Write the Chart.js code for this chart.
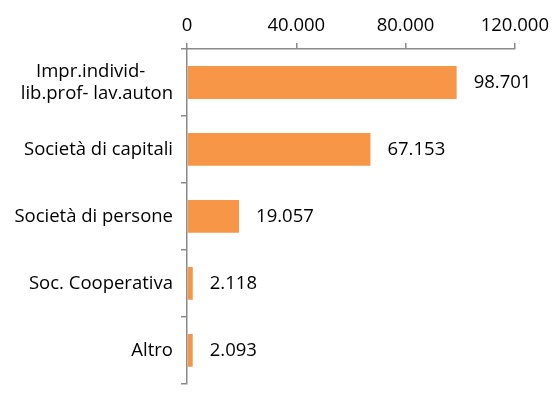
<!DOCTYPE html>
<html>
<head>
<meta charset="utf-8">
<script src="https://cdn.jsdelivr.net/npm/chart.js@4.4.1/dist/chart.umd.min.js"></script>
<style>
  html, body { margin: 0; padding: 0; background: #fff; overflow: hidden; }
  #wrap { width: 555px; height: 414px; }
</style>
</head>
<body>
<div id="wrap"><canvas id="chart"></canvas></div>
<script>
const categories = [
    ['Impr.individ-\u2002\u2002\u2002', 'lib.prof- lav.auton'],
    'Società di capitali',
    'Società di persone',
    'Soc. Cooperativa',
    'Altro'
];
const values = [98701, 67153, 19057, 2118, 2093];
const tickValues = [0, 40000, 80000, 120000];

const BAR_COLOR = '#F79646';
const AXIS_COLOR = '#8a8a8a';
const FONT = { family: 'Open Sans', size: 18.5, lineHeight: 1.2 };

// separatore migliaia con il punto, anche per 4 cifre
function fmt(v) {
    return String(v).replace(/\B(?=(\d{3})+(?!\d))/g, '.');
}

const valueLabels = {
    id: 'valueLabels',
    afterDatasetsDraw(chart) {
        const c = chart.ctx;
        const meta = chart.getDatasetMeta(0);
        c.save();
        c.font = `${FONT.size}px "${FONT.family}"`;
        c.fillStyle = '#000';
        c.textAlign = 'left';
        c.textBaseline = 'middle';
        meta.data.forEach((bar, i) => {
            c.fillText(fmt(values[i]), bar.x + 17, bar.y);
        });
        c.restore();
    }
};

const ctx = document.getElementById('chart').getContext('2d');
new Chart(ctx, {
    type: 'bar',
    data: {
        labels: categories,
        datasets: [{
            data: values,
            backgroundColor: BAR_COLOR,
            borderWidth: 0,
            categoryPercentage: 1,
            barPercentage: 0.49
        }]
    },
    options: {
        indexAxis: 'y',
        responsive: true,
        maintainAspectRatio: false,
        animation: false,
        layout: { padding: { right: 38, top: 0, bottom: 0, left: 0 } },
        plugins: { legend: { display: false }, tooltip: { enabled: false } },
        scales: {
            x: {
                position: 'top',
                min: 0,
                max: 120000,
                afterBuildTicks(scale) {
                    scale.ticks = tickValues.map(v => ({ value: v }));
                },
                afterFit(scale) { scale.height = 49; },
                ticks: {
                    font: FONT,
                    color: '#000',
                    padding: 6,
                    maxRotation: 0,
                    callback: v => fmt(v)
                },
                grid: { drawOnChartArea: false, tickLength: 6, color: AXIS_COLOR, lineWidth: 1.5 },
                border: { color: AXIS_COLOR, width: 1.5 }
            },
            y: {
                afterFit(scale) { scale.width = 187; },
                ticks: {
                    font: FONT,
                    color: '#000',
                    padding: 8
                },
                grid: { offset: true, drawOnChartArea: false, tickLength: 6, color: AXIS_COLOR, lineWidth: 1.5 },
                border: { color: AXIS_COLOR, width: 1.5 }
            }
        }
    },
    plugins: [valueLabels]
});
</script>
</body>
</html>
